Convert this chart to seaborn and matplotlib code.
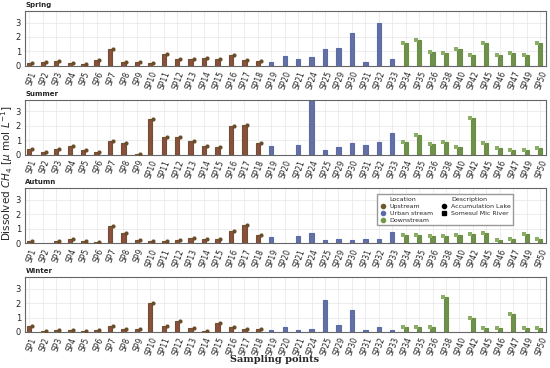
import numpy as np
import pandas as pd
import matplotlib
matplotlib.use("Agg")
import matplotlib.pyplot as plt
from matplotlib.lines import Line2D
import seaborn as sns

points = ["SP1", "SP2", "SP3", "SP4", "SP5", "SP6", "SP7", "SP8", "SP9", "SP10",
          "SP11", "SP12", "SP13", "SP14", "SP15", "SP16", "SP17", "SP18", "SP19",
          "SP20", "SP21", "SP24", "SP25", "SP29", "SP30", "SP31", "SP32", "SP33",
          "SP34", "SP35", "SP36", "SP38", "SP40", "SP42", "SP45", "SP46", "SP47",
          "SP49", "SP50"]
locations = ["Upstream"] * 18 + ["Urban stream"] * 10 + ["Downstream"] * 11

spring = [0.22, 0.25, 0.30, 0.18, 0.15, 0.40, 1.15, 0.27, 0.28, 0.20,
          0.82, 0.45, 0.45, 0.52, 0.47, 0.75, 0.42, 0.32, 0.25,
          0.70, 0.50, 0.58, 1.20, 1.23, 2.30, 0.28, 3.00, 0.45,
          1.55, 1.80, 0.95, 0.90, 1.20, 0.72, 1.60, 0.72, 0.90, 0.72, 1.55]
summer = [0.38, 0.20, 0.37, 0.60, 0.28, 0.20, 0.95, 0.77, 0.07, 2.48,
          1.20, 1.22, 0.95, 0.57, 0.52, 1.97, 2.02, 0.77, 0.57,
          np.nan, 0.63, 3.70, 0.30, 0.50, 0.80, 0.63, 0.90, 1.52,
          0.88, 1.35, 0.72, 0.86, 0.53, 2.52, 0.83, 0.48, 0.32, 0.30, 0.43]
autumn = [0.12, np.nan, 0.12, 0.27, 0.14, 0.10, 1.17, 0.68, 0.20, 0.18,
          0.15, 0.22, 0.35, 0.32, 0.30, 0.88, 1.23, 0.60, 0.45,
          np.nan, 0.50, 0.68, 0.20, 0.32, 0.20, 0.27, 0.30, 0.80,
          0.57, 0.57, 0.52, 0.52, 0.55, 0.62, 0.73, 0.25, 0.30, 0.65, 0.27]
winter = [0.38, 0.07, 0.10, 0.14, 0.08, 0.10, 0.40, 0.18, 0.20, 2.02,
          0.40, 0.75, 0.28, 0.08, 0.60, 0.35, 0.23, 0.20, 0.14,
          0.32, 0.16, 0.20, 2.20, 0.45, 1.52, 0.16, 0.32, 0.14,
          0.32, 0.32, 0.37, 2.42, np.nan, 1.00, 0.30, 0.25, 1.22, 0.28, 0.25]

seasons = {"Spring": spring, "Summer": summer, "Autumn": autumn, "Winter": winter}

bar_face = {"Upstream": "#9a4630", "Urban stream": "#5a6aab", "Downstream": "#6f9a44"}
bar_edge = {"Upstream": "#6b5331", "Urban stream": "#5a6aab", "Downstream": "#6a8f3f"}
marker_col = {"Upstream": "#6b4d2a", "Downstream": "#8aae66"}

sns.set_style("whitegrid")
plt.rcParams["font.family"] = ["DejaVu Sans"]

fig, axes = plt.subplots(4, 1, figsize=(5.5, 3.68), dpi=100)
fig.subplots_adjust(left=0.046, right=0.993, top=0.970, bottom=0.098, hspace=0.62)

for ax, (name, vals) in zip(axes, seasons.items()):
    df = pd.DataFrame({"point": points, "value": vals, "location": locations})
    sns.barplot(data=df, x="point", y="value", hue="location", order=points,
                hue_order=["Upstream", "Urban stream", "Downstream"],
                palette=bar_face, dodge=False, width=0.32, legend=False, ax=ax,
                linewidth=0.8)
    for cont, loc in zip(ax.containers, ["Upstream", "Urban stream", "Downstream"]):
        for p in cont.patches:
            p.set_edgecolor(bar_edge[loc])
    xs = np.arange(len(points))
    v = np.array(vals, dtype=float)
    loc_arr = np.array(locations)
    up = loc_arr == "Upstream"
    dn = loc_arr == "Downstream"
    ax.scatter(xs[up] + 0.22, v[up], marker="o", s=9, color=marker_col["Upstream"],
               zorder=3, linewidths=0)
    ax.scatter(xs[dn] - 0.22, v[dn], marker="s", s=6, color=marker_col["Downstream"],
               zorder=3, linewidths=0)

    ax.set_xlim(-0.3, 38.45)
    ax.set_ylim(0, 3.8)
    ax.set_yticks([0, 1, 2, 3])
    ax.set_xlabel("")
    ax.set_ylabel("")
    ax.set_title(name, loc="left", fontsize=5, fontweight="bold", pad=3)
    ax.tick_params(axis="x", labelsize=5.5, rotation=70, pad=1, length=2)
    ax.tick_params(axis="y", labelsize=6, pad=1, length=2)
    for lab in ax.get_xticklabels():
        lab.set_ha("right")
        lab.set_rotation_mode("anchor")
    ax.grid(True, color="#e6e6e6", linewidth=0.5)
    for s in ax.spines.values():
        s.set_color("#666666")
        s.set_linewidth(0.8)
    ax.set_axisbelow(True)

# legend in Autumn panel
blank = Line2D([], [], linestyle="none", marker=None)
handles = [blank,
           Line2D([], [], linestyle="none", marker="o", markersize=3, color="#6e5a2f"),
           Line2D([], [], linestyle="none", marker="o", markersize=3, color="#5a6aab"),
           Line2D([], [], linestyle="none", marker="o", markersize=3, color="#6f9a44"),
           blank,
           Line2D([], [], linestyle="none", marker="o", markersize=3, color="black"),
           Line2D([], [], linestyle="none", marker="s", markersize=2.5, color="black"),
           blank]
labels = ["Location", "Upstream", "Urban stream", "Downstream",
          "Description", "Accumulation Lake", "Somesul Mic River", ""]
leg = axes[2].legend(handles, labels, ncol=2, fontsize=4.5, loc="upper right",
                     bbox_to_anchor=(0.943, 0.955), frameon=True, handlelength=1.2,
                     handletextpad=0.5, columnspacing=1.2, labelspacing=0.25,
                     borderpad=0.4, fancybox=False, edgecolor="#999999", framealpha=1)

fig.text(0.013, 0.53, r"Dissolved $CH_4$ [$\mu$ mol $L^{-1}$]", rotation=90,
         va="center", ha="center", fontsize=7.5)
fig.text(0.5, 0.022, "Sampling points", ha="center", va="center", fontsize=7,
         fontweight="bold", family="DejaVu Serif")

fig.savefig("out.png", dpi=100)
